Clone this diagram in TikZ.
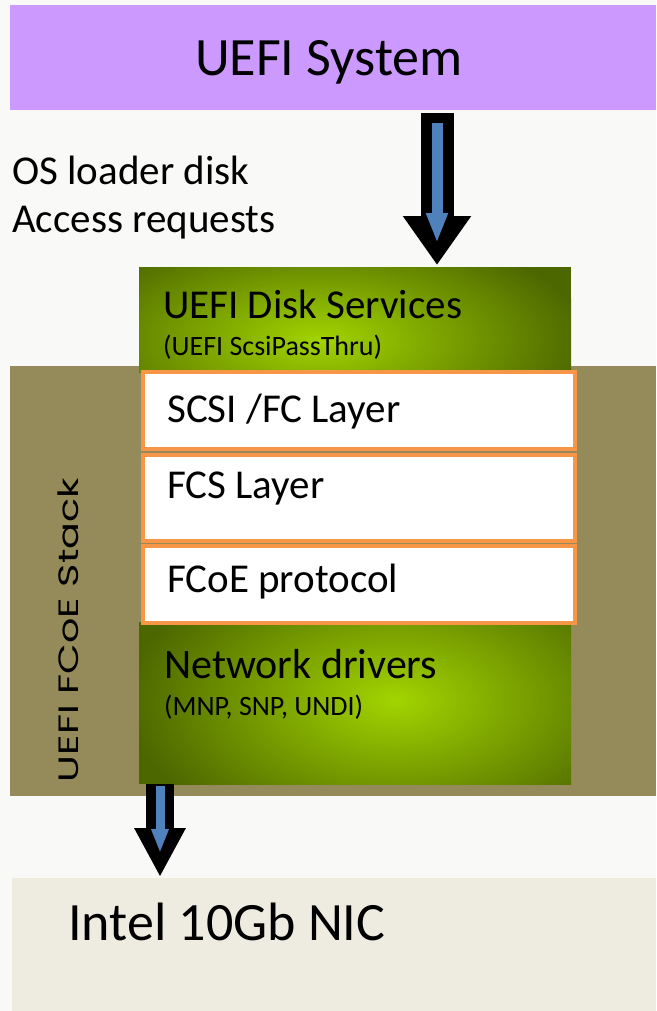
\documentclass[tikz,border=0pt]{standalone}
\usepackage{fontspec}
\setmainfont{Carlito}
\newfontfamily\stackfont{Poppins}
\usetikzlibrary{arrows.meta}

\definecolor{pagegray}{HTML}{F9F9F8}
\definecolor{uefipurple}{HTML}{CC99FF}
\definecolor{stackolive}{HTML}{958B5A}
\definecolor{nictan}{HTML}{EEECE1}
\definecolor{greendark}{RGB}{76,102,0}
\definecolor{greenlight}{RGB}{162,212,0}
\definecolor{layerorange}{HTML}{F79646}
\definecolor{arrowblue}{HTML}{4F81BD}

\tikzset{
  band/.style = {rectangle, inner sep=0pt, outer sep=0pt, anchor=north west},
  layer/.style = {rectangle, draw=layerorange, line width=4pt, fill=white,
                  inner sep=0pt, minimum width=432pt, anchor=north west},
  txt/.style = {inner sep=0pt, anchor=base west, font=\fontsize{#1}{#1}\selectfont},
  txt/.default = 41,
  arrowbody/.style = {black, line width=#1},
  arrowcore/.style = {arrowblue, line width=#1}
}

\begin{document}
\begin{tikzpicture}[x=1pt, y=-1pt]
	\useasboundingbox (0,0) rectangle (656,1011);
	\fill[pagegray] (0,0) rectangle (656,1011);

	% UEFI system
	\node[band, fill=uefipurple, minimum width=646pt, minimum height=105pt] (sys) at (10,5) {};
	\node[txt=54, anchor=base] (syslbl) at (329,76) {UEFI System};

	% Requests
	\node[txt] (req1) at (12,185) {OS loader disk};
	\node[txt] (req2) at (12,232) {Access requests};

	% Stack
	\node[band, fill=stackolive, minimum width=646pt, minimum height=430pt] (stack) at (10,366) {};
	\node[inner sep=0pt, anchor=base, rotate=90, font=\stackfont\fontsize{28}{28}\selectfont] (stacklbl) at (78,630) {\scalebox{1.42}[1]{UEFI FCoE Stack}};

	% Green blocks
	\node[band, fill=greendark, minimum width=432pt, minimum height=105pt] (disk) at (139,267) {};
	\begin{scope}
		\clip (disk.north west) rectangle (disk.south east);
		\shade[inner color=greenlight, outer color=greendark] (320,340) ellipse (270 and 115);
	\end{scope}
	\node[band, fill=greendark, minimum width=432pt, minimum height=162pt] (net) at (139,622) {};
	\begin{scope}
		\clip (net.north west) rectangle (net.south east);
		\shade[inner color=greenlight, outer color=greendark] (395,700) ellipse (270 and 150);
	\end{scope}
	\node[txt] (disklbl) at (163,318) {UEFI Disk Services};
	\node[txt=28] (disksub) at (163,355) {(UEFI ScsiPassThru)};
	\node[txt=42] (netlbl) at (164,678) {Network drivers};
	\node[txt=28] (netsub) at (164,715) {(MNP, SNP, UNDI)};

	% Layers
	\node[layer, minimum height=77pt] (scsi) at (141,370) {};
	\node[layer, minimum height=86pt] (fcs) at (141,453) {};
	\node[layer, minimum height=77pt] (fcoe) at (141,544) {};
	\node[txt] (scsilbl) at (167,422) {SCSI /FC Layer};
	\node[txt] (fcslbl) at (167,498) {FCS Layer};
	\node[txt] (fcoelbl) at (167,592) {FCoE protocol};

	% NIC
	\node[band, fill=nictan, minimum width=644pt, minimum height=133pt] (nic) at (12,878) {};
	\node[txt=54] (niclbl) at (68,940) {Intel 10Gb NIC};

	% Arrows
	\coordinate (a1) at (437,0);
	\coordinate (a2) at (160,0);
	\draw[arrowbody=33pt, -{Triangle[width=65pt,length=49pt]}] ([yshift=-3pt]sys.south -| a1) -- ([yshift=2pt]disk.north -| a1);
	\draw[arrowcore=11pt, -{Triangle[width=20pt,length=30pt]}] ([yshift=-13pt]sys.south -| a1) -- ([yshift=24pt]disk.north -| a1);
	\draw[arrowbody=28pt, -{Triangle[width=48pt,length=49pt]}] (net.south -| a2) -- ([yshift=1pt]nic.north -| a2);
	\draw[arrowcore=9pt, -{Triangle[width=16pt,length=24pt]}] ([yshift=-2pt]net.south -| a2) -- ([yshift=25pt]nic.north -| a2);

\end{tikzpicture}
\end{document}
